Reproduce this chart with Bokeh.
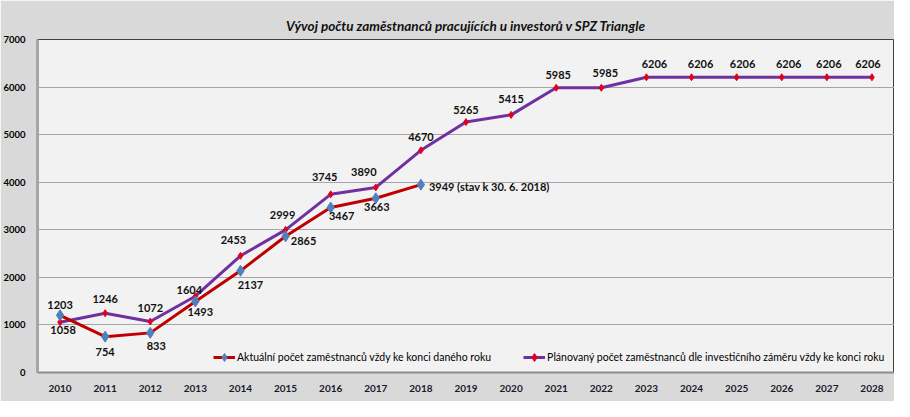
from bokeh.plotting import figure
from bokeh.models import ColumnDataSource, LabelSet, Legend, LegendItem, Range1d, FixedTicker
from bokeh.core.properties import value
from bokeh.embed import file_html
from bokeh.resources import INLINE

# ---- data ----
years = ["2010", "2011", "2012", "2013", "2014", "2015", "2016", "2017", "2018", "2019",
         "2020", "2021", "2022", "2023", "2024", "2025", "2026", "2027", "2028"]
actual_years = ["2010", "2011", "2012", "2013", "2014", "2015", "2016", "2017", "2018"]
actual = [1203, 754, 833, 1493, 2137, 2865, 3467, 3663, 3949]
planned = [1058, 1246, 1072, 1604, 2453, 2999, 3745, 3890, 4670, 5265,
           5415, 5985, 5985, 6206, 6206, 6206, 6206, 6206, 6206]
actual_note = " (stav k 30. 6. 2018)"
y_ticks = [0, 1000, 2000, 3000, 4000, 5000, 6000, 7000]
title = "Vývoj počtu zaměstnanců pracujících u investorů v SPZ Triangle"
label_actual = "Aktuální počet zaměstnanců vždy ke konci daného roku"
label_planned = "Plánovaný počet zaměstnanců dle investičního záměru vždy ke konci roku"

# ---- label placement (screen px offsets, style only) ----
actual_dx = [0, 0, 6, 5, 10, 18, 11, 1]
actual_dy = [10, -15, -13, -11, -14, -5, -8, -9]
planned_dx = [3, 0, 0, -6, -7, -3, -6, -12, 0, 0, 0, 2, 4, 8, 9, 6, 7, 2, -4]
planned_dy = [-8, 14, 14, 6, 16, 15, 17, 15, 13, 12, 16, 13, 15, 13, 13, 13, 13, 13, 13]

FONT = "Lato"
RED = "#c00000"
PURPLE = "#7030a0"
BLUE = "#4f81bd"
MRED = "#e3001b"

p = figure(x_range=years, y_range=Range1d(0, 7000), width=894, height=401,
           output_backend="svg", toolbar_location=None,
           min_border_left=28, min_border_right=0, min_border_top=39, min_border_bottom=29,
           background_fill_color="#f2f2f2", border_fill_color="#d9d9d9")

p.title.text = title
p.title.align = "center"
p.title.text_font = FONT
p.title.text_font_style = "bold italic"
p.title.text_font_size = "13.5px"
p.title.text_color = "#111111"
p.title.standoff = 12

p.outline_line_color = "#404040"
p.outline_line_width = 1

p.xgrid.grid_line_color = None
p.ygrid.grid_line_color = "#a6a6a6"
p.ygrid.grid_line_width = 1

p.yaxis.ticker = FixedTicker(ticks=y_ticks)
p.yaxis.major_tick_line_color = None
p.yaxis.minor_tick_line_color = None
p.yaxis.axis_line_color = "#a6a6a6"
p.yaxis.axis_line_width = 3
p.yaxis.major_label_text_font = FONT
p.yaxis.major_label_text_font_style = "bold"
p.yaxis.major_label_text_font_size = "9.5px"
p.yaxis.major_label_text_color = "#000000"
p.yaxis.major_label_standoff = 6

p.xaxis.major_tick_line_color = None
p.xaxis.minor_tick_line_color = None
p.xaxis.axis_line_color = "#8c8c8c"
p.xaxis.axis_line_width = 2
p.xaxis.major_label_text_font = FONT
p.xaxis.major_label_text_font_style = "bold"
p.xaxis.major_label_text_font_size = "10px"
p.xaxis.major_label_text_color = "#1a1a2a"
p.xaxis.major_label_standoff = 6
try:
    p.xaxis.major_label_background_fill_color = "#c6d9f1"
except Exception:
    pass

src_a = ColumnDataSource(dict(x=actual_years, y=actual))
src_p = ColumnDataSource(dict(x=years, y=planned))

lp = p.line("x", "y", source=src_p, line_color=PURPLE, line_width=3)
sp = p.scatter("x", "y", source=src_p, marker="diamond", size=7, fill_color=MRED, line_color=MRED)
la = p.line("x", "y", source=src_a, line_color=RED, line_width=3)
sa = p.scatter("x", "y", source=src_a, marker="diamond", size=11, fill_color=BLUE, line_color=BLUE)

# data labels
lab_a = ColumnDataSource(dict(x=actual_years[:-1], y=actual[:-1],
                              t=[str(v) for v in actual[:-1]],
                              dx=actual_dx, dy=actual_dy))
lab_a_last = ColumnDataSource(dict(x=actual_years[-1:], y=actual[-1:],
                                   t=[str(actual[-1]) + actual_note]))
lab_p = ColumnDataSource(dict(x=years, y=planned, t=[str(v) for v in planned],
                              dx=planned_dx, dy=planned_dy))

common = dict(text_font=value(FONT), text_font_style="bold", text_font_size=value("11px"),
              text_color="#111111", text_baseline="middle")
p.add_layout(LabelSet(x="x", y="y", text="t", source=lab_a, x_offset="dx", y_offset="dy",
                      text_align="center", **common))
p.add_layout(LabelSet(x="x", y="y", text="t", source=lab_a_last, x_offset=8, y_offset=-2,
                      text_align="left", **common))
p.add_layout(LabelSet(x="x", y="y", text="t", source=lab_p, x_offset="dx", y_offset="dy",
                      text_align="center", **common))

legend = Legend(items=[LegendItem(label=label_actual, renderers=[la, sa]),
                       LegendItem(label=label_planned, renderers=[lp, sp])],
                orientation="horizontal", location=(176, 5),
                border_line_color=None, background_fill_alpha=0,
                padding=0, margin=0, spacing=32, label_standoff=2,
                glyph_width=22, glyph_height=20,
                label_text_font=FONT, label_text_font_size="10.5px",
                label_text_color="#000000")
p.add_layout(legend)

open("out.html", "w").write(file_html(p, INLINE))
